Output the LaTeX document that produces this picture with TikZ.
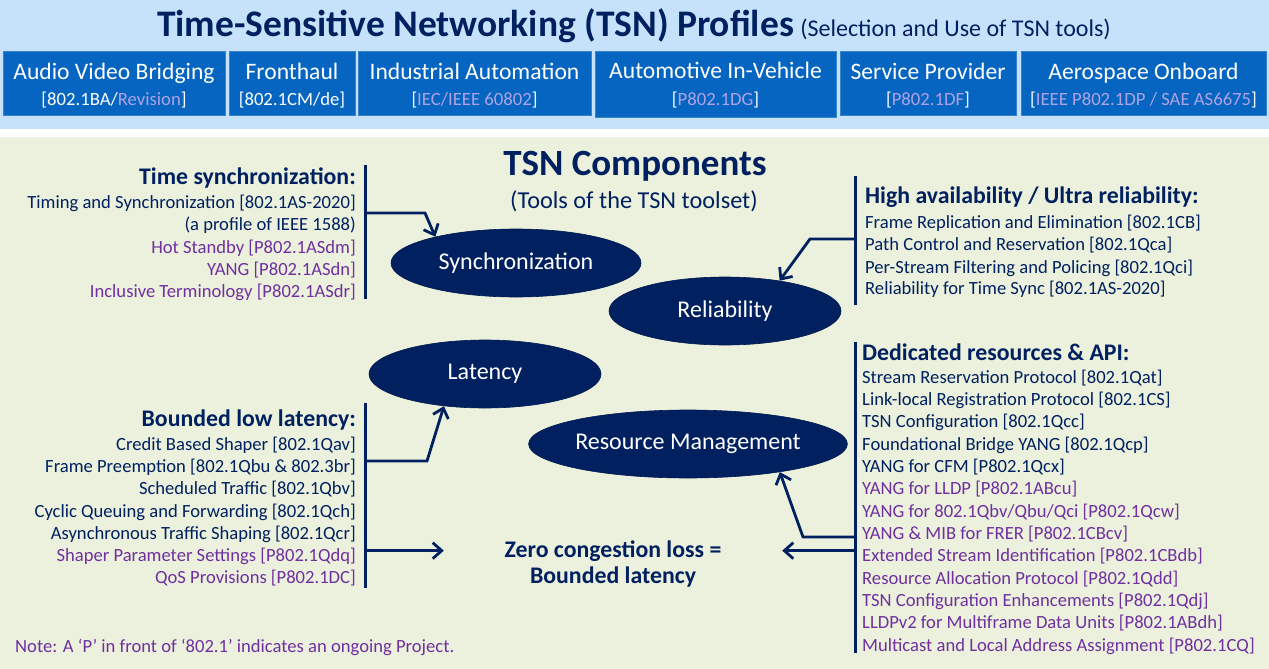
\documentclass[tikz,border=0pt]{standalone}
\usepackage{fontspec}
\setmainfont{Carlito}
\usetikzlibrary{arrows.meta,shapes.geometric}
\definecolor{topbg}{HTML}{C6E2FA}
\definecolor{boxblue}{HTML}{0565C0}
\definecolor{lav}{HTML}{AFA2E4}
\definecolor{navy}{HTML}{002060}
\definecolor{purp}{HTML}{7030A0}
\definecolor{greenbg}{HTML}{EBF1DC}
\begin{document}
\begin{tikzpicture}[x=1pt,y=-1pt,
  pbox/.style={rectangle,fill=boxblue,draw=boxblue!80!white,line width=0.6pt,inner sep=0pt},
  ptitle/.style={font=\fontsize{23.6}{28}\selectfont,text=white,inner sep=0pt,anchor=base},
  psub/.style={font=\fontsize{18.7}{22}\selectfont,text=white,inner sep=0pt,anchor=base},
  lst/.style={font=\fontsize{18.6}{22}\selectfont,inner sep=0pt,text=navy},
  hdr/.style={font=\bfseries\fontsize{23.8}{28}\selectfont,inner sep=0pt,text=navy},
  comp/.style={ellipse,fill=navy,draw=navy!80!black,line width=0.6pt,inner sep=0pt,text=white,font=\fontsize{24}{28}\selectfont},
  bar/.style={draw=navy,line width=3pt},
  arr/.style={draw=navy,line width=2.8pt,-{Straight Barb[length=9pt,width=16pt]}}]
\useasboundingbox (0,0) rectangle (1269,669);
\fill[white] (0,0) rectangle (1269,669);
\fill[topbg] (0,0) rectangle (1269,129);
\fill[greenbg] (0,137) rectangle (1269,669);

% title
\node[anchor=base west,inner sep=0pt,text=navy,font=\bfseries\fontsize{37.5}{42}\selectfont] (title) at (157,37) {Time-Sensitive Networking (TSN) Profiles};
\node[anchor=base west,inner sep=0pt,text=navy,font=\fontsize{24}{28}\selectfont] (subtitle) at ([xshift=6pt]title.base east) {(Selection and Use of TSN tools)};

% profile boxes
\node[pbox,minimum width=222pt,minimum height=64pt] (b1) at (114,83) {};
\node[pbox,minimum width=126pt,minimum height=64pt] (b2) at (292,83) {};
\node[pbox,minimum width=233pt,minimum height=64pt] (b3) at (474.5,83) {};
\node[pbox,minimum width=241pt,minimum height=66pt] (b4) at (715.5,84) {};
\node[pbox,minimum width=176pt,minimum height=64pt] (b5) at (928,83) {};
\node[pbox,minimum width=245pt,minimum height=64pt] (b6) at (1143.5,83) {};
\node[ptitle] (b1t) at (114,80) {Audio Video Bridging};
\node[psub] (b1s) at (114,106) {[802.1BA/\textcolor{lav}{Revision}]};
\node[ptitle] (b2t) at (292,80) {Fronthaul};
\node[psub] (b2s) at (292,106) {[802.1CM/de]};
\node[ptitle] (b3t) at (474.5,80) {Industrial Automation};
\node[psub] (b3s) at (474.5,106) {[\textcolor{lav}{IEC/IEEE 60802}]};
\node[ptitle] (b4t) at (715.5,78) {Automotive In-Vehicle};
\node[psub] (b4s) at (715.5,106) {[\textcolor{lav}{P802.1DG}]};
\node[ptitle] (b5t) at (928,80) {Service Provider};
\node[psub] (b5s) at (928,106) {[\textcolor{lav}{P802.1DF}]};
\node[ptitle] (b6t) at (1143.5,80) {Aerospace Onboard};
\node[psub] (b6s) at (1143.5,106) {[\textcolor{lav}{IEEE P802.1DP / SAE AS6675}]};

% components title
\node[anchor=base,inner sep=0pt,text=navy,font=\bfseries\fontsize{37}{42}\selectfont] (ctitle) at (635,175) {TSN Components};
\node[anchor=base,inner sep=0pt,text=navy,font=\fontsize{24.3}{28}\selectfont] (csub) at (634,208) {(Tools of the TSN toolset)};

% ellipses
\node[comp,minimum width=250pt,minimum height=68pt] (sync) at (516,263) {Synchronization};
\node[comp,minimum width=232pt,minimum height=68pt] (rel) at (725,311) {Reliability};
\node[comp,minimum width=232pt,minimum height=68pt] (lat) at (485,374) {Latency};
\node[comp,minimum width=268pt,minimum height=68pt] (res) at (688,444) {Resource Management};

% zero congestion
\node[anchor=base,inner sep=0pt,minimum width=338pt,text=navy,font=\bfseries\fontsize{23.8}{28}\selectfont] (zero1) at (613,557) {Zero congestion loss =};
\node[anchor=base,inner sep=0pt,text=navy,font=\bfseries\fontsize{23.8}{28}\selectfont] (zero2) at (613,583) {Bounded latency};

% left group 1
\node[hdr,anchor=base east] (tsh) at (356,184) {Time synchronization:};
\foreach \y/\c/\t [count=\i] in {208/navy/{Timing and Synchronization [802.1AS-2020]},
  230/navy/{(a profile of IEEE 1588)},
  253/purp/{Hot Standby [P802.1ASdm]},
  275/purp/{YANG [P802.1ASdn]},
  297/purp/{Inclusive Terminology [P802.1ASdr]}}
  \node[lst,text=\c,anchor=base east] (ts\i) at (356,\y) {\t};

% left group 2
\node[hdr,anchor=base east] (blh) at (356,426) {Bounded low latency:};
\foreach \y/\c/\t [count=\i] in {450/navy/{Credit Based Shaper [802.1Qav]},
  472/navy/{Frame Preemption [802.1Qbu \& 802.3br]},
  494/navy/{Scheduled Traffic [802.1Qbv]},
  517/navy/{Cyclic Queuing and Forwarding [802.1Qch]},
  539/navy/{Asynchronous Traffic Shaping [802.1Qcr]},
  561/purp/{Shaper Parameter Settings [P802.1Qdq]},
  583/purp/{QoS Provisions [P802.1DC]}}
  \node[lst,text=\c,anchor=base east] (bl\i) at (356,\y) {\t};

% right group 1
\node[hdr,anchor=base west] (hah) at (865,203) {High availability / Ultra reliability:};
\foreach \y/\c/\t [count=\i] in {228/navy/{Frame Replication and Elimination [802.1CB]},
  250/navy/{Path Control and Reservation [802.1Qca]},
  273/navy/{Per-Stream Filtering and Policing [802.1Qci]},
  294/navy/{Reliability for Time Sync [802.1AS-2020]}}
  \node[lst,text=\c,anchor=base west] (ha\i) at (865,\y) {\t};

% right group 2
\node[hdr,anchor=base west] (drh) at (862,360) {Dedicated resources \& API:};
\foreach \y/\c/\t [count=\i] in {383/navy/{Stream Reservation Protocol [802.1Qat]},
  405/navy/{Link-local Registration Protocol [802.1CS]},
  427/navy/{TSN Configuration [802.1Qcc]},
  450/navy/{Foundational Bridge YANG [802.1Qcp]},
  472/navy/{YANG for CFM [P802.1Qcx]},
  494/purp/{YANG for LLDP [P802.1ABcu]},
  517/purp/{YANG for 802.1Qbv/Qbu/Qci [P802.1Qcw]},
  539/purp/{YANG \& MIB for FRER [P802.1CBcv]},
  561/purp/{Extended Stream Identification [P802.1CBdb]},
  584/purp/{Resource Allocation Protocol [P802.1Qdd]},
  606/purp/{TSN Configuration Enhancements [P802.1Qdj]},
  628/purp/{LLDPv2 for Multiframe Data Units [P802.1ABdh]},
  651/purp/{Multicast and Local Address Assignment [P802.1CQ]}}
  \node[lst,text=\c,anchor=base west] (dr\i) at (862,\y) {\t};

% note
\node[lst,text=purp,anchor=base west,font=\fontsize{18.6}{22}\selectfont] (note) at (15,652) {Note: A ‘P’ in front of ‘802.1’ indicates an ongoing Project.};

% bars
\coordinate (lbar1t) at (365,165); \coordinate (lbar1b) at (365,299);
\coordinate (lbar2t) at (365,403); \coordinate (lbar2b) at (365,588);
\coordinate (rbar1t) at (855,176); \coordinate (rbar1b) at (855,305);
\coordinate (rbar2t) at (855,342); \coordinate (rbar2b) at (855,653);
\draw[bar] (lbar1t) -- (lbar1b);
\draw[bar] (lbar2t) -- (lbar2b);
\draw[bar] (rbar1t) -- (rbar1b);
\draw[bar] (rbar2t) -- (rbar2b);

% connectors
\coordinate (s0) at (365,213);
\draw[arr] (s0) -- (425,213) -- (sync.162);
\coordinate (r0) at (855,239);
\draw[arr] (r0) -- (810,239) -- (rel.29);
\coordinate (l0) at (365,461);
\draw[arr] (l0) -- (427,461) -- (lat.218);
\coordinate (m0) at (855,537);
\draw[arr] (m0) -- (803,537) -- (res.-17.5);
\draw[arr] (zero1.west -| lbar2t) -- (zero1.west);
\draw[arr] (zero1.east -| rbar2t) -- (zero1.east);
\end{tikzpicture}
\end{document}
